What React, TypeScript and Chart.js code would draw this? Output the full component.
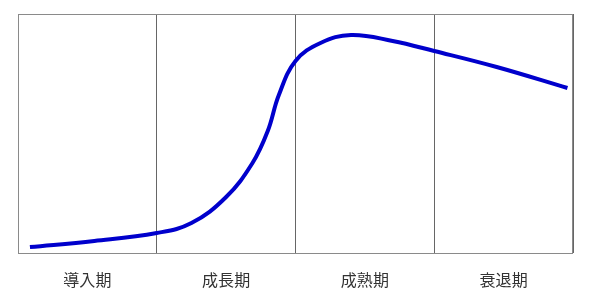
import React, { useEffect, useRef } from "react";
import { Chart, registerables } from "chart.js";

Chart.register(...registerables);

const stages = ["導入期", "成長期", "成熟期", "衰退期"];
// position along the life cycle (0..4, one unit per stage)
const timeValues = [0.086, 0.55, 1.0, 1.25, 1.5, 1.69, 1.8, 1.88, 2.0, 2.18, 2.4, 2.7, 3.0, 3.45, 3.96];
// sales level
const salesValues = [6, 12, 20, 30, 56, 90, 122, 158, 192, 210, 218, 212, 202, 186, 165];

const boxPlugin = {
  id: "box",
  beforeDatasetsDraw(chart: any) {
    const { ctx, chartArea } = chart;
    ctx.save();
    ctx.strokeStyle = "#8a8a8a";
    ctx.lineWidth = 1;
    ctx.strokeRect(chartArea.left + 0.5, chartArea.top + 0.5, chartArea.right - chartArea.left - 1, chartArea.bottom - chartArea.top);
    ctx.restore();
  },
};

export default function App() {
  const ref = useRef<HTMLCanvasElement>(null);
  useEffect(() => {
    const points = timeValues.map((x, i) => ({ x, y: salesValues[i] }));
    const chart = new Chart(ref.current!, {
      type: "line",
      data: {
        datasets: [
          {
            data: points,
            xAxisID: "x",
            yAxisID: "y",
            borderColor: "#0000cc",
            borderWidth: 4,
            pointRadius: 0,
            tension: 0.4,
            borderCapStyle: "butt",
          },
        ],
      },
      options: {
        responsive: false,
        animation: false,
        layout: { padding: { left: 18, right: 17, top: 14, bottom: 0 } },
        plugins: { legend: { display: false }, tooltip: { enabled: false } },
        scales: {
          x: { type: "linear", min: 0, max: 4, display: false },
          xc: {
            type: "category",
            labels: stages,
            position: "bottom",
            offset: true,
            grid: { offset: true, color: "#666666", drawTicks: false, lineWidth: 1 },
            border: { display: false },
            ticks: { color: "#333333", padding: 17, font: { family: "'Noto Sans CJK JP'", size: 16 } },
            afterFit(axis: any) {
              axis.height = 50;
            },
          },
          y: { type: "linear", min: 0, max: 239, display: false },
        },
      },
      plugins: [boxPlugin],
    } as any);
    return () => chart.destroy();
  }, []);
  return (
    <div style={{ position: "fixed", left: 0, top: 0, width: 590, height: 303, background: "#fff" }}>
      <canvas ref={ref} width={590} height={303} />
    </div>
  );
}
